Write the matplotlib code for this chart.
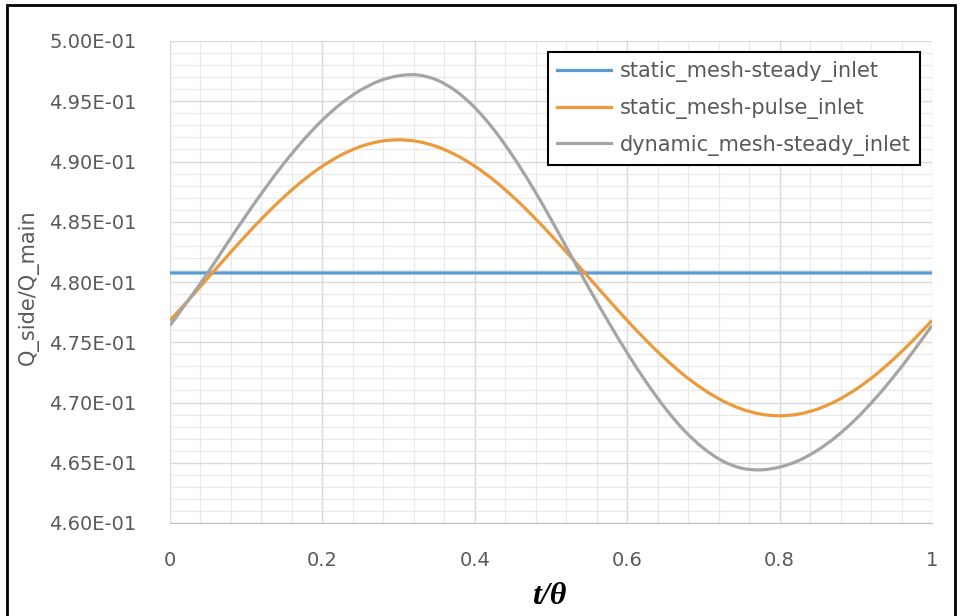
import numpy as np
import matplotlib.pyplot as plt
from matplotlib.ticker import MultipleLocator, FuncFormatter
from matplotlib.patches import Rectangle, PathPatch
from matplotlib.path import Path
from matplotlib.lines import Line2D

# data (t/theta, flow ratio)
t = [0.0, 0.025, 0.05, 0.075, 0.1, 0.125, 0.15, 0.175, 0.2, 0.225,
     0.25, 0.275, 0.3, 0.325, 0.35, 0.375, 0.4, 0.425, 0.45, 0.475,
     0.5, 0.525, 0.55, 0.575, 0.6, 0.625, 0.65, 0.675, 0.7, 0.725,
     0.75, 0.775, 0.8, 0.825, 0.85, 0.875, 0.9, 0.925, 0.95, 0.975, 1.0]

static_steady = [0.48075] * len(t)

static_pulse = [0.47681, 0.47856, 0.48035, 0.48214, 0.48389, 0.48555, 0.48708,
                0.48845, 0.48961, 0.49055, 0.49124, 0.49166, 0.49180, 0.49166,
                0.49124, 0.49055, 0.48961, 0.48845, 0.48708, 0.48555, 0.48389,
                0.48214, 0.48035, 0.47856, 0.47681, 0.47515, 0.47362, 0.47225,
                0.47109, 0.47015, 0.46946, 0.46904, 0.46890, 0.46904, 0.46946,
                0.47015, 0.47109, 0.47225, 0.47362, 0.47515, 0.47681]

dynamic_steady = [0.47639, 0.47857, 0.48080, 0.48320, 0.48554, 0.48778, 0.48988,
                  0.49177, 0.49344, 0.49483, 0.49592, 0.49669, 0.49711, 0.49718,
                  0.49677, 0.49586, 0.49447, 0.49265, 0.49044, 0.48794, 0.48520,
                  0.48233, 0.47947, 0.47673, 0.47411, 0.47169, 0.46952, 0.46767,
                  0.46621, 0.46515, 0.46455, 0.46441, 0.46464, 0.46518, 0.46605,
                  0.46720, 0.46862, 0.47029, 0.47217, 0.47421, 0.47639]

labels = ['static_mesh-steady_inlet', 'static_mesh-pulse_inlet',
          'dynamic_mesh-steady_inlet']
colors = ['#5b9bd5', '#eb9a3c', '#a5a5a5']


def smooth_path(x, y):
    """Excel-style smoothed line: Catmull-Rom segments as cubic Beziers."""
    x = np.asarray(x, float)
    y = np.asarray(y, float)
    px = np.concatenate([[x[0]], x, [x[-1]]])
    py = np.concatenate([[y[0]], y, [y[-1]]])
    verts = [(x[0], y[0])]
    codes = [Path.MOVETO]
    for i in range(1, len(x)):
        c1 = (px[i] + (px[i + 1] - px[i - 1]) / 6, py[i] + (py[i + 1] - py[i - 1]) / 6)
        c2 = (px[i + 1] - (px[i + 2] - px[i]) / 6, py[i + 1] - (py[i + 2] - py[i]) / 6)
        verts += [c1, c2, (x[i], y[i])]
        codes += [Path.CURVE4] * 3
    return Path(verts, codes)


fig = plt.figure(figsize=(9.6, 6.16), dpi=100)
ax = fig.add_axes([170/960, 1 - 523/616, 762/960, 482/616])

handles = []
for y, lab, c in zip([static_steady, static_pulse, dynamic_steady], labels, colors):
    ax.add_patch(PathPatch(smooth_path(t, y), fill=False, edgecolor=c, lw=2.3,
                           capstyle='butt', joinstyle='round'))
    handles.append(Line2D([], [], color=c, lw=2.3, label=lab))

ax.set_xlim(0, 1)
ax.set_ylim(0.46, 0.50)
ax.xaxis.set_major_locator(MultipleLocator(0.2))
ax.xaxis.set_minor_locator(MultipleLocator(0.04))
ax.yaxis.set_major_locator(MultipleLocator(0.005))
ax.yaxis.set_minor_locator(MultipleLocator(0.001))
ax.xaxis.set_major_formatter(FuncFormatter(lambda v, p: '%g' % round(v, 2)))
ax.yaxis.set_major_formatter(FuncFormatter(lambda v, p: '%.2E' % v))

ax.grid(which='major', color='#d9d9d9', lw=1.0)
ax.grid(which='minor', color='#e9e9e9', lw=0.9)
ax.set_axisbelow(True)
for s in ['top', 'right', 'left']:
    ax.spines[s].set_visible(False)
ax.spines['bottom'].set_color('#bfbfbf')
ax.tick_params(which='both', length=0)
ax.tick_params(axis='x', pad=20, labelsize=14, labelcolor='#595959')
ax.tick_params(axis='y', pad=24, labelsize=14, labelcolor='#595959')

fig.text(28/960, 1 - 287/616, 'Q_side/Q_main', rotation=90, ha='center',
         va='center', fontsize=15, color='#595959')
fig.text(549/960, 1 - 597/616, 't/θ', ha='center', va='center',
         fontsize=23, color='black', family='Liberation Serif',
         style='italic', weight='bold')

leg = ax.legend(handles=handles, loc='upper right', bbox_to_anchor=(0.984, 0.977),
                borderaxespad=0, fontsize=15, fancybox=False, framealpha=1,
                edgecolor='black', handlelength=2.6, handletextpad=0.4,
                labelspacing=0.75, borderpad=0.45)
leg.get_frame().set_linewidth(1.5)
for txt in leg.get_texts():
    txt.set_color('#595959')

# outer frame of the chart
fig.patches.append(Rectangle((7/960, -0.02), 948/960, 1.02 - 5/616,
                             transform=fig.transFigure, fill=False,
                             edgecolor='black', lw=2))

fig.savefig('out.png', dpi=100)
